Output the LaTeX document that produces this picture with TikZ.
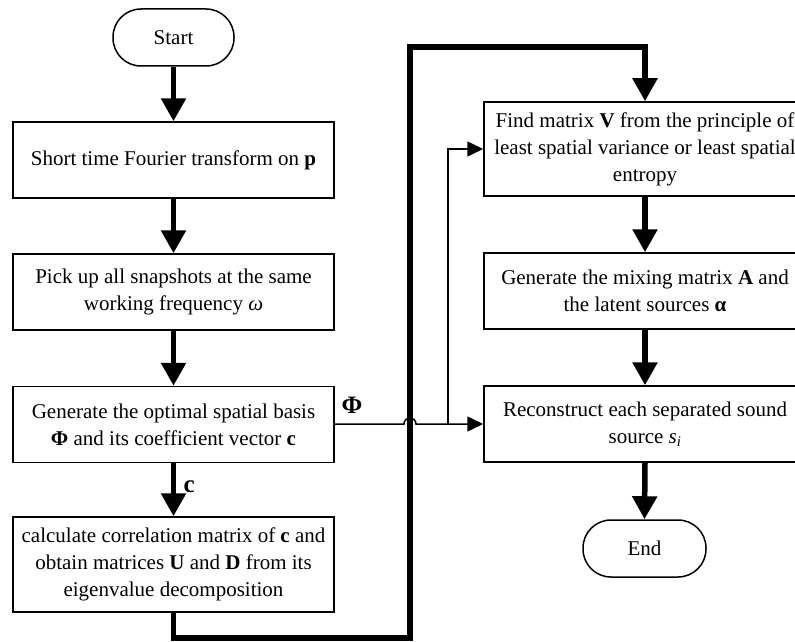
\documentclass[tikz,border=0pt]{standalone}
\usepackage{fontspec}
\setmainfont{Liberation Serif}
\usetikzlibrary{arrows.meta}
\begin{document}
\begin{tikzpicture}[x=1pt,y=-1pt,
  every node/.style={font=\fontsize{21}{27}\selectfont},
  box/.style={draw,line width=1.5pt,rectangle,minimum width=321pt,align=center,inner sep=2pt},
  term/.style={draw,line width=1.5pt,rectangle,rounded corners=28pt,minimum width=121pt,minimum height=57pt},
  thick arrow/.style={line width=5.5pt,-{Triangle[width=24pt,length=23pt]}},
  thin arrow/.style={line width=1.5pt,-{Triangle[width=15pt,length=16pt]}},
  lbl/.style={font=\fontsize{25}{27}\selectfont\bfseries}]
\useasboundingbox (0,0) rectangle (795,642);
\node[term] (start) at (173.5,37.5) {Start};
\node[box,minimum height=76pt] (b1) at (173.5,160) {Short time Fourier transform on \textbf{p}};
\node[box,minimum height=76pt] (b2) at (173.5,292) {Pick up all snapshots at the same\\working frequency \textit{ω}};
\node[box,minimum height=76pt] (b3) at (173.5,424.5) {Generate the optimal spatial basis\\\textbf{Φ} and its coefficient vector \textbf{c}};
\node[box,minimum height=95pt] (b4) at (173.5,564.5) {calculate correlation matrix of \textbf{c} and\\obtain matrices \textbf{U} and \textbf{D} from its\\eigenvalue decomposition};
\node[box,minimum width=322pt,minimum height=94pt] (r1) at (645,149) {Find matrix \textbf{V} from the principle of\\least spatial variance or least spatial\\entropy};
\node[box,minimum width=322pt,minimum height=76pt] (r2) at (645,291) {Generate the mixing matrix \textbf{A} and\\the latent sources \textbf{α}};
\node[box,minimum width=322pt,minimum height=76pt] (r3) at (645,424) {Reconstruct each separated sound\\source \textit{s}\textsubscript{\textit{i}}};
\node[term,minimum width=123pt] (end) at (644.5,548.5) {End};

\draw[thick arrow] (start.south) -- (b1.north);
\draw[thick arrow] (b1.south) -- (b2.north);
\draw[thick arrow] (b2.south) -- (b3.north);
\draw[thick arrow] (b3.south) -- node[lbl,right=4pt,pos=0.45] (clbl) {c} (b4.north);
\draw[thick arrow] (r1.south) -- (r2.north);
\draw[thick arrow] (r2.south) -- (r3.north);
\draw[thick arrow] (r3.south) -- (end.north);

\coordinate (p1) at (173.5,638);
\coordinate (p2) at (410,638);
\coordinate (p3) at (410,47);
\coordinate (p4) at (645,47);
\draw[thick arrow] (b4.south) -- (p1) -- (p2) -- (p3) -- (p4) -- (r1.north);

\coordinate (j1) at (404,424);
\coordinate (br) at (448,424);
\coordinate (bt) at (448,149);
\draw[thin arrow] (b3.east |- j1) -- (j1) arc[start angle=180,end angle=0,radius=6pt] -- (br) -- (r3.west);
\draw[thin arrow] (br) -- (bt) -- (r1.west);
\node[lbl] (philbl) at (352,405) {Φ};
\end{tikzpicture}
\end{document}
